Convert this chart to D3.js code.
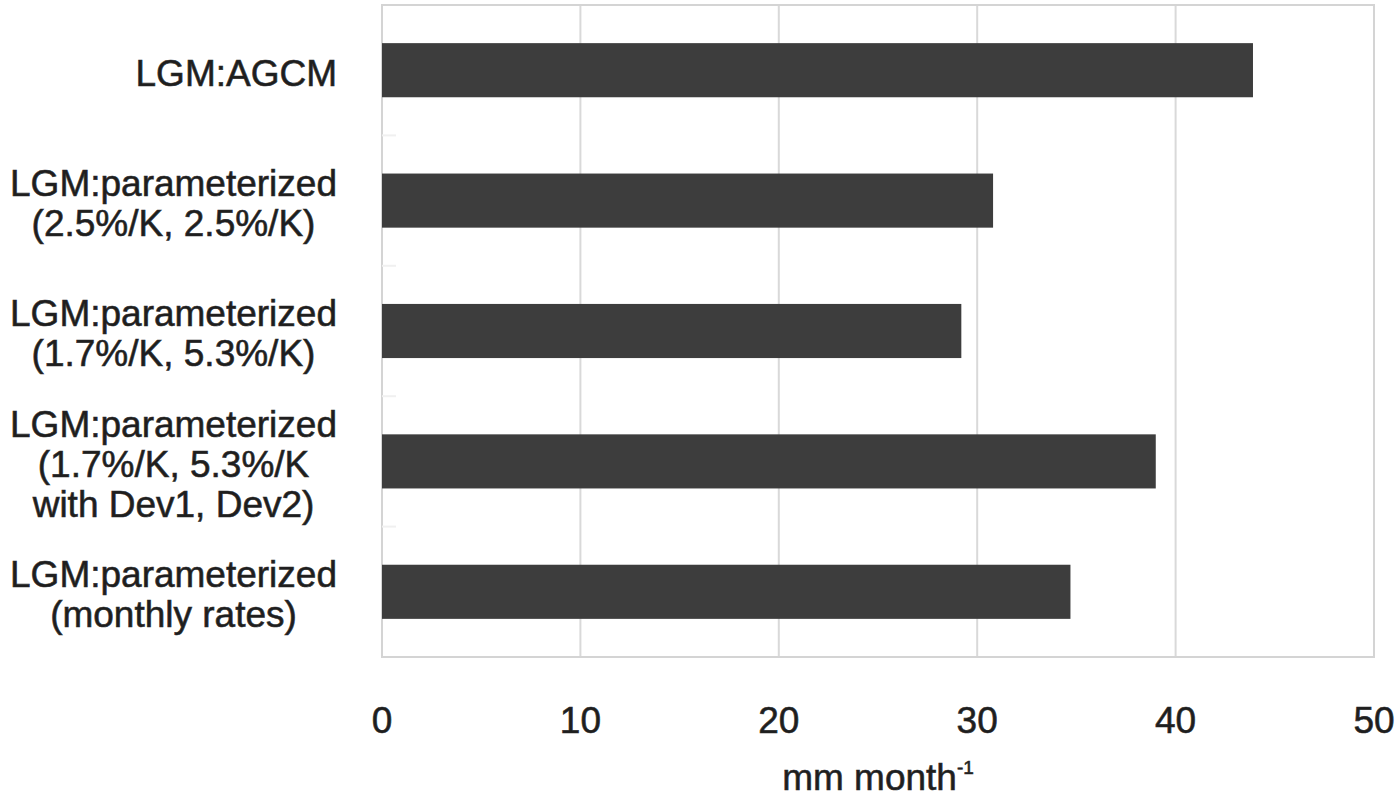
<!DOCTYPE html>
<html>
<head>
<meta charset="utf-8">
<script src="https://cdn.jsdelivr.net/npm/d3@7"></script>
<style>
  body { margin: 0; background: #fff; }
  svg { display: block; }
  svg text { stroke: #2a2a2a; stroke-width: 0.6px; }
</style>
</head>
<body>
<div class="main"></div>
<script>
// category labels, one entry per line of the label
let categories = [
  ["LGM:AGCM"],
  ["LGM:parameterized", "(2.5%/K, 2.5%/K)"],
  ["LGM:parameterized", "(1.7%/K, 5.3%/K)"],
  ["LGM:parameterized", "(1.7%/K, 5.3%/K", "with Dev1, Dev2)"],
  ["LGM:parameterized", "(monthly rates)"]
];
let values = [43.9, 30.8, 29.2, 39.0, 34.7];
let xTicks = [0, 10, 20, 30, 40, 50];

(function() {
  let width = 1400,
      height = 802;

  let svg = d3.select("div.main").append("svg")
    .attr("width", width)
    .attr("height", height);

  // plot area edges
  let pLeft = 382, pRight = 1374, pTop = 5, pBottom = 657;

  let x = d3.scaleLinear()
    .domain([0, 50])
    .range([pLeft, pRight]);

  let y = d3.scaleBand()
    .domain(d3.range(categories.length))
    .range([pTop, pBottom])
    .paddingInner(0.585)
    .paddingOuter(0.2925);

  // vertical gridlines
  svg.selectAll("line.grid")
    .data(xTicks)
    .enter().append("line")
    .attr("class", "grid")
    .attr("x1", d => x(d))
    .attr("x2", d => x(d))
    .attr("y1", pTop)
    .attr("y2", pBottom)
    .attr("stroke", "#d9d9d9")
    .attr("stroke-width", 2);

  // plot border
  svg.append("rect")
    .attr("x", pLeft)
    .attr("y", pTop)
    .attr("width", pRight - pLeft)
    .attr("height", pBottom - pTop)
    .attr("fill", "none")
    .attr("stroke", "#d4d4d4")
    .attr("stroke-width", 2);

  // faint category separators on the left axis
  svg.selectAll("line.sep")
    .data(d3.range(1, categories.length))
    .enter().append("line")
    .attr("class", "sep")
    .attr("x1", pLeft)
    .attr("x2", pLeft + 14)
    .attr("y1", d => y(d) - y.step() * y.paddingInner() / 2)
    .attr("y2", d => y(d) - y.step() * y.paddingInner() / 2)
    .attr("stroke", "#f0f0f0")
    .attr("stroke-width", 2);

  // bars
  svg.selectAll("rect.bar")
    .data(values)
    .enter().append("rect")
    .attr("class", "bar")
    .attr("x", x(0))
    .attr("y", (d, i) => y(i))
    .attr("width", d => x(d) - x(0))
    .attr("height", y.bandwidth())
    .attr("fill", "#3d3d3d");

  // x tick labels
  svg.selectAll("text.tick")
    .data(xTicks)
    .enter().append("text")
    .attr("class", "tick")
    .attr("x", d => x(d))
    .attr("y", 733)
    .attr("text-anchor", "middle")
    .attr("font-family", "Liberation Sans, Arial, sans-serif")
    .attr("font-size", "37px")
    .attr("fill", "#1e1e1e")
    .text(d => d);

  // category labels: lines centred within the block, block right-aligned
  let labelRight = 337, lineH = 40;
  categories.forEach(function(lines, i) {
    let cy = y(i) + y.bandwidth() / 2 + 2;
    let g = svg.append("g");
    let texts = lines.map(function(s, j) {
      return g.append("text")
        .attr("y", cy + (j - (lines.length - 1) / 2) * lineH)
        .attr("dy", "0.36em")
        .attr("text-anchor", "middle")
        .attr("font-family", "Liberation Sans, Arial, sans-serif")
        .attr("font-size", "37px")
        .attr("fill", "#1e1e1e")
        .text(s);
    });
    let maxW = d3.max(texts, t => t.node().getComputedTextLength());
    texts.forEach(t => t.attr("x", labelRight - maxW / 2));
  });

  // axis title
  let title = svg.append("text")
    .attr("x", (pLeft + pRight) / 2)
    .attr("y", 790)
    .attr("text-anchor", "middle")
    .attr("font-family", "Liberation Sans, Arial, sans-serif")
    .attr("font-size", "37px")
    .attr("fill", "#1e1e1e");
  title.append("tspan").text("mm month");
  title.append("tspan")
    .attr("font-size", "19px")
    .attr("dy", "-16")
    .text("-1");
})();
</script>
</body>
</html>
